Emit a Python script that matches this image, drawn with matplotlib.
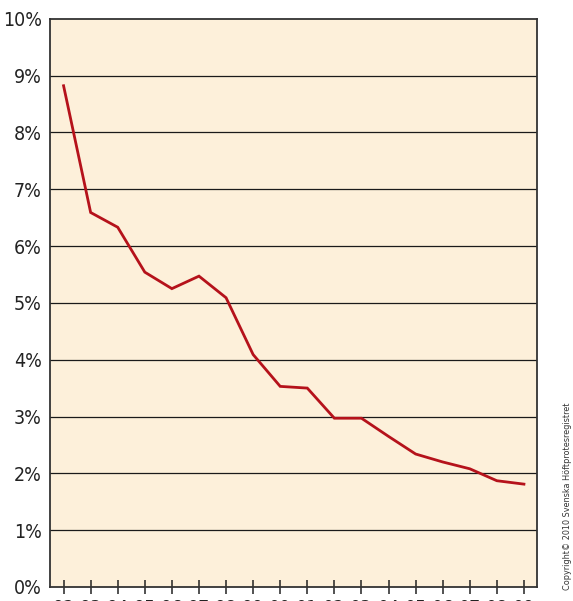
import numpy as np
import matplotlib.pyplot as plt
from matplotlib.ticker import FuncFormatter

years = ["92", "93", "94", "95", "96", "97", "98", "99", "00",
         "01", "02", "03", "04", "05", "06", "07", "08", "09"]
share = [8.82, 6.59, 6.33, 5.54, 5.25, 5.47, 5.09, 4.09, 3.53,
         3.50, 2.97, 2.97, 2.65, 2.34, 2.20, 2.08, 1.87, 1.81]

plt.rcParams["font.family"] = ["DejaVu Sans"]
plt.rcParams["font.stretch"] = "condensed"

fig = plt.figure(figsize=(5.73, 6.01), dpi=100)
ax = fig.add_axes([0.0873, 0.0233, 0.8507, 0.9456])
ax.set_facecolor("#fdf0da")

x = np.arange(len(years))
ax.plot(x, share, color="#b5121b", lw=2.0, solid_joinstyle="miter", zorder=3)

ax.set_xlim(-0.5, len(years) - 0.5)
ax.set_ylim(0, 10)
ax.set_yticks(range(0, 11))
ax.yaxis.set_major_formatter(FuncFormatter(lambda v, p: f"{int(v)}%"))
ax.set_xticks(x)
ax.set_xticklabels(years)

for v in range(1, 10):
    ax.axhline(v, color="#1a1a1a", lw=0.9, zorder=2)

for s in ax.spines.values():
    s.set_color("#333333")
    s.set_linewidth(1.3)

ax.tick_params(axis="y", length=0, pad=6, labelsize=14, colors="#222222")
ax.tick_params(axis="x", direction="inout", length=10, width=1.1,
               pad=4, labelsize=14, colors="#222222")

fig.text(0.991, 0.018, "Copyright© 2010 Svenska Höftprotesregistret",
         rotation=90, ha="center", va="bottom", fontsize=6.5, color="#333333")

fig.savefig("out.png", dpi=100)
